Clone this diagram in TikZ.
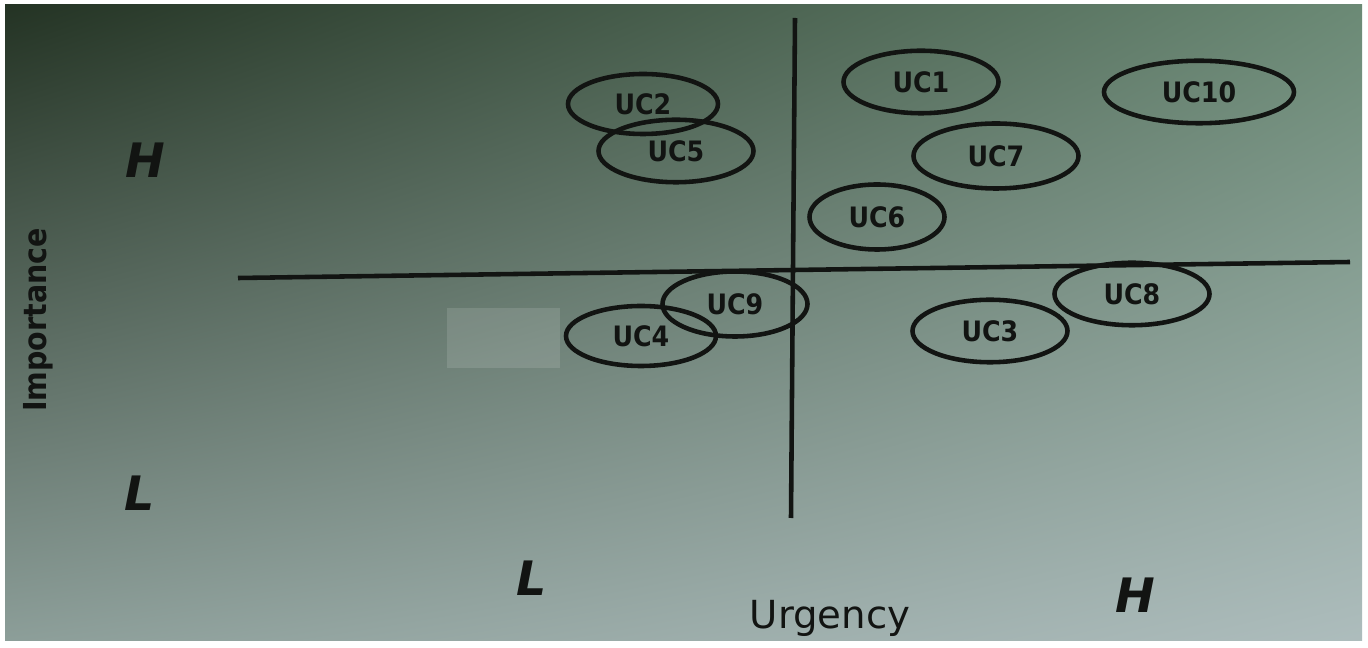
\documentclass[tikz,border=0pt]{standalone}
\usepackage{fontspec}
\setmainfont{DejaVu Sans}
\newfontfamily\ucfont{DejaVu Sans Condensed}
\usetikzlibrary{shapes.geometric,shadings}
\definecolor{inkcolor}{rgb}{0.07,0.08,0.07}
\definecolor{bgul}{rgb}{0.14,0.20,0.14}
\definecolor{bgur}{rgb}{0.42,0.54,0.46}
\definecolor{bgll}{rgb}{0.55,0.62,0.60}
\definecolor{bglr}{rgb}{0.68,0.74,0.74}

\begin{document}
\begin{tikzpicture}[x=0.2mm,y=-0.2mm,
    uc/.style={draw=inkcolor,line width=2.6pt,ellipse,inner sep=0pt,
      minimum width=3.1cm,minimum height=1.25cm,
      font=\ucfont\bfseries\fontsize{16}{16}\selectfont,text=inkcolor},
    axis/.style={draw=inkcolor,line width=2.6pt},
    level/.style={font=\bfseries\itshape\fontsize{27}{27}\selectfont,text=inkcolor}]
  \useasboundingbox (0,0) rectangle (1368,648);
  \fill[white] (0,0) rectangle (1368,648);
  \shade[upper left=bgul,upper right=bgur,lower left=bgll,lower right=bglr]
    (5,5) rectangle (1362,641);
  \fill[white,opacity=0.12] (447,308) rectangle (560,368);
  % axes
  \coordinate (vtop) at (795,18);
  \coordinate (vbot) at (791,518);
  \coordinate (hleft) at (238,278);
  \coordinate (hright) at (1350,262);
  \draw[axis] (vtop) -- (vbot);
  \draw[axis] (hleft) -- (hright);
  % use cases
  \node[uc,minimum width=3.0cm,minimum height=1.2cm] (uc2) at (643,104) {UC2};
  \node[uc] (uc5) at (676,151) {UC5};
  \node[uc] (uc1) at (921,82) {UC1};
  \node[uc,minimum width=3.8cm] (uc10) at (1199,92) {UC10};
  \node[uc,minimum width=3.3cm,minimum height=1.3cm] (uc7) at (996,156) {UC7};
  \node[uc,minimum width=2.7cm,minimum height=1.3cm] (uc6) at (877,217) {UC6};
  \node[uc,minimum width=2.9cm,minimum height=1.3cm] (uc9) at (735,304) {UC9};
  \node[uc,minimum width=3.0cm,minimum height=1.2cm] (uc4) at (641,336) {UC4};
  \node[uc] (uc8) at (1132,294) {UC8};
  \node[uc] (uc3) at (990,331) {UC3};
  % labels
  \node[level] (imph) at (145,160) {H};
  \node[level] (impl) at (140,493) {L};
  \node[level] (urgl) at (532,578) {L};
  \node[level] (urgh) at (1135,595) {H};
  \node[font=\fontsize{22}{22}\selectfont,text=inkcolor] (urg) at (830,618) {Urgency};
  \node[rotate=90,font=\ucfont\bfseries\fontsize{18}{18}\selectfont,text=inkcolor]
    (imp) at (38,320) {Importance};
\end{tikzpicture}
\end{document}
